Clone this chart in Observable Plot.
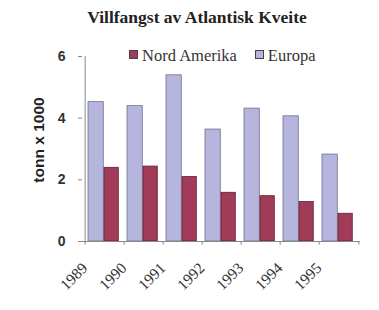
<!DOCTYPE html>
<html><head><meta charset="utf-8">
<script src="https://cdn.jsdelivr.net/npm/d3@7"></script>
<script src="https://cdn.jsdelivr.net/npm/@observablehq/plot@0.6"></script>
<style>
body{margin:0;background:#fff;}
#wrap{position:relative;width:379px;height:310px;}
#title{position:absolute;left:0;width:394px;top:7px;text-align:center;font-family:"Liberation Serif",serif;font-weight:bold;font-size:17.5px;color:#222;}
#legend{position:absolute;top:46px;left:129px;white-space:nowrap;}
#legend span{font-family:"Liberation Serif","Times New Roman",serif;font-size:16.5px;color:#333;}
#legend span.sw{display:inline-block;width:7px;height:7px;border:1px solid #444;margin-right:4px;vertical-align:2px;}
#legend span.it{margin-right:18px;}
</style></head>
<body><div id="wrap"><div id="title"></div><div id="legend"></div></div>
<script>
const title = "Villfangst av Atlantisk Kveite";
const years = ["1989","1990","1991","1992","1993","1994","1995"];
const seriesNames = ["Nord Amerika","Europa"];
const nordAmerika = [2.39, 2.43, 2.09, 1.58, 1.47, 1.28, 0.90];
const europa = [4.52, 4.39, 5.39, 3.63, 4.31, 4.06, 2.82];
const yTicks = [0, 2, 4, 6];
const yLabel = "tonn x 1000";
const colors = {"Nord Amerika": "#a23b57", "Europa": "#b5b5de"};

const W = 379, H = 310, mL = 82, mR = 19, mT = 56, mB = 69;
const step = (W - mL - mR) / years.length;

const eu = years.map((y, i) => ({year: y, value: europa[i]}));
const na = years.map((y, i) => ({year: y, value: nordAmerika[i]}));

const chart = Plot.plot({
  width: W, height: H,
  marginLeft: mL, marginRight: mR, marginTop: mT, marginBottom: mB,
  style: {fontFamily: "Liberation Sans, Arial, sans-serif", background: "#fff"},
  x: {domain: years, padding: 0, label: null},
  y: {domain: [0, 6], label: null},
  marks: [
    Plot.barY(eu, {x: "year", y: "value", fill: colors["Europa"], stroke: "#6f6f90", strokeWidth: 0.8, insetLeft: 3, insetRight: step - 3 - 16}),
    Plot.barY(na, {x: "year", y: "value", fill: colors["Nord Amerika"], stroke: "#5e2033", strokeWidth: 0.8, insetLeft: 19, insetRight: step - 19 - 15}),
    Plot.ruleY([0], {stroke: "#888", strokeWidth: 1}),
    Plot.ruleX([years[0]], {dx: -step / 2, y1: 0, y2: 6, stroke: "#888"}),
    Plot.ruleX(years, {dx: -step / 2, y1: 0, y2: -0.12, stroke: "#888"}),
    Plot.ruleX([years[years.length - 1]], {dx: step / 2, y1: 0, y2: -0.12, stroke: "#888"}),
    Plot.axisY({ticks: yTicks, tickFormat: d3.format("d"), tickSize: 4, tickPadding: 13, fontSize: 14, fontWeight: "bold", stroke: "#888", fill: "#333", label: null}),
    Plot.text([yLabel], {frameAnchor: "left", textAnchor: "middle", rotate: -90, dx: -43, dy: -9, fontSize: 15.5, fontWeight: "bold", fill: "#222"}),
    Plot.axisX({tickSize: 0, tickRotate: -45, tickPadding: 24, dx: -20, fontSize: 15.5, fontFamily: "Liberation Serif, serif", fill: "#333", label: null})
  ]
});
document.getElementById("wrap").appendChild(chart);
document.getElementById("title").textContent = title;
const lg = document.getElementById("legend");
for (const s of seriesNames) {
  const sw = document.createElement("span"); sw.className = "sw"; sw.style.background = colors[s];
  const t = document.createElement("span"); t.className = "it"; t.textContent = s;
  lg.appendChild(sw); lg.appendChild(t);
}
</script>
</body></html>
